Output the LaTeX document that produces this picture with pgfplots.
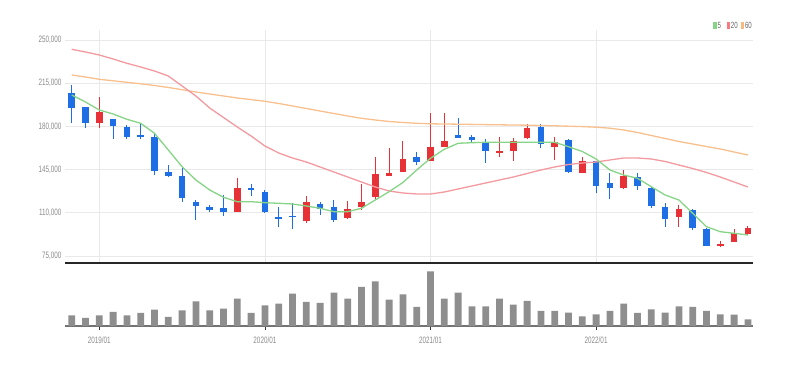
\documentclass[border=0pt]{standalone}
\usepackage{fontspec}
\usepackage{pgfplots}
\usepackage{pgfplotstable}
\pgfplotsset{compat=1.18}
\setmainfont{Liberation Sans}
\newfontfamily\narrow[FakeStretch=0.68]{Liberation Sans}
\definecolor{cblue}{HTML}{1E6EE6}
\definecolor{cred}{HTML}{E63237}
\definecolor{maA}{HTML}{86D486}
\definecolor{maB}{HTML}{F39AA0}
\definecolor{maC}{HTML}{F8C08E}
\definecolor{volc}{HTML}{8E8E8E}
\definecolor{gridc}{HTML}{E9E9E9}
\definecolor{labc}{HTML}{8A8A8A}

% prices in thousands
\pgfplotstableread{
x o h l c
2 182.53 204.07 178.95 191.92
12 110.32 137.97 110.32 129.88
17 103.22 123.47 102.00 119.02
20 105.98 119.81 105.00 113.27
21 114.87 133.00 112.30 119.02
22 122.59 155.00 120.97 141.46
23 140.08 162.28 140.08 142.00
24 143.32 168.43 143.32 153.61
26 151.99 191.11 151.99 163.56
27 163.16 190.63 163.16 168.43
31 158.71 171.19 154.99 160.09
32 160.33 170.38 151.80 168.43
33 170.38 181.96 169.56 178.48
35 163.16 171.67 152.80 167.62
37 142.51 155.47 142.51 151.80
40 129.88 144.70 129.07 139.84
44 106.46 116.35 98.29 113.27
47 83.54 87.02 82.16 84.92
48 86.35 96.67 86.35 93.64
49 93.26 99.20 92.05 97.85
}\up

\pgfplotstableread{
x o h l c
0 206.82 213.55 183.00 195.15
1 195.47 195.50 178.95 183.00
3 186.01 186.01 169.56 180.34
4 179.77 181.15 169.80 171.18
5 173.05 182.53 169.80 171.18
6 171.67 174.43 140.65 144.13
7 143.32 148.75 139.30 139.84
8 140.08 146.05 118.94 121.78
9 119.02 120.40 104.20 115.54
10 114.87 116.35 110.44 112.30
11 113.95 124.40 107.27 110.84
13 129.88 133.53 123.47 128.33
14 127.10 128.33 110.11 110.32
15 106.39 114.49 98.29 105.01
16 107.44 117.73 96.67 106.46
18 117.32 119.02 108.25 113.27
19 114.98 120.37 102.78 104.20
25 155.47 159.04 148.75 150.94
28 173.05 186.58 170.86 170.86
29 171.67 173.05 167.62 168.83
30 167.62 169.56 150.59 159.92
34 179.29 181.96 162.28 165.52
36 169.00 169.56 142.51 143.32
38 151.80 151.80 125.80 131.74
39 133.93 142.00 120.97 129.88
41 139.27 142.00 128.50 131.98
42 130.36 131.18 113.68 115.54
43 114.98 118.21 98.83 104.77
45 112.30 113.27 96.10 97.85
46 96.67 97.45 83.54 83.54
}\down

\pgfplotstableread{
x ma5 ma20 ma60
0 205.45 242.47 221.65
1 199.78 240.28 220.03
2 193.30 237.85 218.17
3 190.06 234.61 216.95
4 185.77 231.13 215.74
5 182.53 228.13 214.52
6 174.43 224.89 213.16
7 160.90 220.84 211.53
8 147.37 212.74 209.76
9 136.60 204.64 207.88
10 128.50 194.92 206.26
11 122.59 187.23 204.64
12 119.02 179.53 203.02
13 119.02 172.24 201.72
14 118.21 164.14 200.35
15 117.73 158.47 198.57
16 117.16 154.42 196.54
17 115.54 151.18 194.52
18 113.68 147.13 192.49
19 110.92 143.08 190.47
20 110.92 139.03 188.44
21 113.68 134.98 186.58
22 120.40 130.93 185.20
23 127.12 127.69 183.99
24 134.57 126.07 183.18
25 144.70 125.26 182.53
26 154.18 125.26 182.12
27 161.47 126.88 181.96
28 166.33 129.31 181.80
29 166.81 131.74 181.64
30 167.14 134.17 181.47
31 167.14 136.60 181.31
32 167.14 139.03 181.15
33 167.14 141.87 180.99
34 167.14 144.70 180.75
35 167.14 147.13 180.50
36 163.57 149.16 180.18
37 159.69 150.37 179.85
38 153.61 151.18 179.37
39 144.70 152.80 178.56
40 140.65 154.42 177.10
41 137.98 154.42 175.08
42 131.17 153.61 172.65
43 124.45 151.59 170.22
44 120.40 148.75 167.79
45 109.63 145.92 165.76
46 98.77 142.68 163.74
47 94.72 139.03 161.71
48 93.43 134.98 159.28
49 92.05 130.93 156.85
}\ma

\pgfplotstableread{
x v
0 10.7
1 8
2 10.7
3 14
4 10.7
5 13
6 16.3
7 9
8 15.7
9 24.7
10 15.7
11 17.3
12 27.3
13 13
14 20.7
15 22.3
16 32.3
17 24
18 23
19 33.3
20 27.3
21 39
22 44.7
23 26.3
24 31.7
25 19
26 54.7
27 27.3
28 33.3
29 19.7
30 19.7
31 27.3
32 21.3
33 25
34 15
35 15
36 13.3
37 9.7
38 11.7
39 15
40 22.3
41 13
42 16.7
43 13.3
44 19.7
45 19
46 15
47 11.7
48 11.3
49 6.7
}\vol

\begin{document}
\begin{tikzpicture}
\path[use as bounding box] (0,0) rectangle (794pt,366pt);

\begin{axis}[
  at={(65pt,103pt)}, anchor=south west,
  scale only axis, width=688pt, height=233pt,
  xmin=-0.486, xmax=49.37, ymin=69.37, ymax=258.1,
  axis x line*=bottom, axis y line*=left,
  x axis line style={draw=black!85, line width=1.6pt, -},
  y axis line style={draw=none},
  xtick={2,14,26,38}, xticklabels={},
  ytick={75,110,145,180,215,250},
  yticklabels={{75,000},{110,000},{145,000},{180,000},{215,000},{250,000}},
  yticklabel style={font=\narrow\fontsize{9.3}{10}\selectfont, text=labc},
  major tick length=0pt,
  xmajorgrids, ymajorgrids,
  grid style={draw=gridc, line width=0.8pt},
  clip=false,
]
% wicks
\addplot[draw=none, mark=none, forget plot,
  error bars/.cd, y dir=plus, y explicit, error mark=none,
  error bar style={line width=1.1pt, draw=cblue}]
  table[x=x, y=l, y error expr=\thisrow{h}-\thisrow{l}] {\down};
\addplot[draw=none, mark=none, forget plot,
  error bars/.cd, y dir=plus, y explicit, error mark=none,
  error bar style={line width=1.1pt, draw=cred}]
  table[x=x, y=l, y error expr=\thisrow{h}-\thisrow{l}] {\up};
% bodies
\addplot[draw=none, mark=none, forget plot,
  error bars/.cd, y dir=plus, y explicit, error mark=none,
  error bar style={line width=6.6pt, draw=cblue}]
  table[x=x, y=c, y error expr=\thisrow{o}-\thisrow{c}] {\down};
\addplot[draw=none, mark=none, forget plot,
  error bars/.cd, y dir=plus, y explicit, error mark=none,
  error bar style={line width=6.6pt, draw=cred}]
  table[x=x, y=o, y error expr=\thisrow{c}-\thisrow{o}] {\up};
% moving averages
\addplot[maC, line width=1.3pt, no marks] table[x=x, y=ma60] {\ma};
\addplot[maB, line width=1.3pt, no marks] table[x=x, y=ma20] {\ma};
\addplot[maA, line width=1.3pt, no marks] table[x=x, y=ma5] {\ma};
\end{axis}

\begin{axis}[
  at={(65pt,40pt)}, anchor=south west,
  scale only axis, width=688pt, height=62pt,
  xmin=-0.486, xmax=49.37, ymin=0, ymax=62,
  axis x line*=bottom, axis y line=none,
  x axis line style={draw=black!55, line width=2.6pt, -},
  xtick={2,14,26,38},
  xticklabels={2019/01,2020/01,2021/01,2022/01},
  xticklabel style={font=\narrow\fontsize{9.3}{10}\selectfont, text=labc, yshift=-3.5pt},
  tick align=outside, major tick length=4pt,
  tick style={draw=black!80, line width=0.8pt},
  ytick=\empty,
]
\addplot[ybar, bar width=6.8pt, fill=volc, draw=none] table[x=x, y=v] {\vol};
\end{axis}

% legend
\fill[maA] (713.3pt,336.7pt) rectangle (716.7pt,344.3pt);
\node[anchor=west, inner sep=0pt, text=black!60, font=\narrow\fontsize{9}{10}\selectfont] at (717.5pt,340.5pt) {5};
\fill[maB!80!red] (726.5pt,336.7pt) rectangle (729.8pt,344.3pt);
\node[anchor=west, inner sep=0pt, text=black!60, font=\narrow\fontsize{9}{10}\selectfont] at (730.7pt,340.5pt) {20};
\fill[maC!90!orange] (740.5pt,336.7pt) rectangle (743.8pt,344.3pt);
\node[anchor=west, inner sep=0pt, text=black!60, font=\narrow\fontsize{9}{10}\selectfont] at (744.8pt,340.5pt) {60};
\end{tikzpicture}
\end{document}
